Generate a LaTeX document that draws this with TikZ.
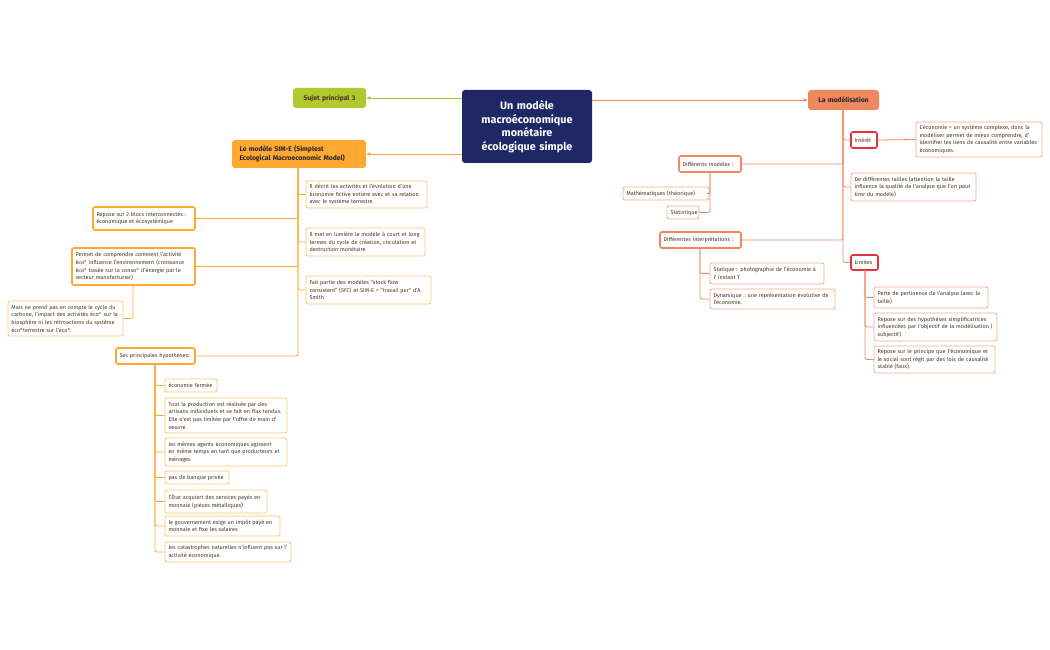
\documentclass[tikz,border=0pt]{standalone}
\usepackage{fontspec}
\setmainfont{Fira Sans}
\usetikzlibrary{arrows.meta}
\hyphenpenalty=10000
\exhyphenpenalty=10000
\definecolor{navy}{HTML}{1F2864}
\definecolor{ora}{HTML}{FFA832}
\definecolor{oral}{HTML}{FFC46E}
\definecolor{lime}{HTML}{B3C72E}
\definecolor{sal}{HTML}{F0885F}
\definecolor{sall}{HTML}{F7A98A}
\definecolor{redb}{HTML}{E0313A}
\definecolor{txt}{HTML}{4A3520}
\newcommand\bx[7]{\node[#6, minimum width={(#4-#2)*1pt}, minimum height={(#5-#3)*1pt}, text width={(#4-#2-7)*1pt}] (#1) at ({(#2+#4)/2},{(#3+#5)/2}) {#7};}
\tikzset{
 base/.style={rectangle, rounded corners=2pt, inner sep=0pt, align=left, text=txt, font=\fontsize{5.5}{7.6}\selectfont},
 leafo/.style={base, draw=oral, line width=0.8pt, fill=white},
 bigo/.style={base, draw=ora, line width=1.6pt, fill=white},
 leafs/.style={base, draw=sall, line width=0.8pt, fill=white},
 bigs/.style={base, draw=sal, line width=1.6pt, fill=white},
 reds/.style={base, draw=redb, line width=1.6pt, fill=white},
 lo/.style={draw=ora, line width=0.8pt, rounded corners=2pt},
 ls/.style={draw=sal, line width=0.8pt, rounded corners=2pt},
}
\begin{document}
\begin{tikzpicture}[x=1pt,y=-1pt]
\useasboundingbox (0,0) rectangle (1050,650);
% central & main topics
\bx{c}{462}{90}{592}{163}{base, fill=navy, text=white, align=center, font=\fontsize{10.8}{13.5}\selectfont\bfseries, rounded corners=3pt}{Un modèle\\macroéconomique\\monétaire\\écologique simple}
\bx{suj}{293}{88}{366}{108}{base, fill=lime, text=txt, align=center, font=\fontsize{6.8}{8}\selectfont\bfseries, rounded corners=3pt}{Sujet principal 3}
\bx{sime}{232}{140}{366}{168}{base, fill=ora, text=black!85, font=\fontsize{6.8}{9.5}\selectfont\bfseries, rounded corners=3pt}{\hspace*{4pt}Le modèle SIM-E (Simplest\\\hspace*{4pt}Ecological Macroeconomic Model)}
\bx{mod}{808}{90}{879}{110}{base, fill=sal, text=black!85, align=center, font=\fontsize{6.8}{8}\selectfont\bfseries, rounded corners=3pt}{La modélisation}
\draw[lime, line width=0.8pt, -{Latex[length=4pt,width=4pt]}] (c.west |- suj.east) -- (suj.east);
\draw[ora, line width=0.8pt, -{Latex[length=4pt,width=4pt]}] (c.west |- sime.east) -- (sime.east);
\draw[sal, line width=0.8pt, -{Latex[length=4pt,width=4pt]}] (c.east |- mod.west) -- (mod.west);
% left side
\bx{d1}{306}{181}{427}{208}{leafo}{Il décrit les activités et l'évolution d'une économie fictive entière avec et sa relation avec le système terrestre}
\bx{d2}{306}{228}{425}{256}{leafo}{Il met en lumière le modèle à court et long termes du cycle de création, circulation et destruction monétaire}
\bx{d3}{306}{276}{431}{304}{leafo}{Fait partie des modèles "stock flow consistent" (SFC) et SIM-E = "travail pur" d'A. Smith}
\bx{r2}{93}{207}{195}{230}{bigo}{Repose sur 2 blocs interconnectés : économique et écosystémique}
\bx{pc}{72}{248}{195}{285}{bigo}{Permet de comprendre comment l'activité éco° influence l'environnement (croissance éco° basée sur la conso° d'énergie par le secteur manufacturier)}
\bx{mp}{8}{301}{123}{336}{leafo}{Mais ne prend pas en compte le cycle du carbone, l'impact des activités éco° sur la biosphère ni les rétroactions du système éco°terrestre sur l'éco°.}
\bx{hy}{116}{348}{195}{364}{bigo}{Ses principales hypothèses:}
\coordinate (t1) at (298,168);
\foreach \n in {d1,d2,d3} \draw[lo] (t1) |- (\n.west);
\foreach \n in {r2,pc,hy} \draw[lo] (t1) |- (\n.east);
\coordinate (t2) at (133,285);
\draw[lo] (t2) |- (mp.east);
\bx{h1}{165}{379}{217}{392}{leafo}{économie fermée}
\bx{h2}{165}{398}{287}{433}{leafo}{Tout la production est réalisée par des artisans individuels et se fait en flux tendus. Elle n'est pas limitée par l'offre de main d' oeuvre}
\bx{h3}{165}{438}{287}{466}{leafo}{les mêmes agents économiques agissent en même temps en tant que producteurs et ménages}
\bx{h4}{165}{471}{229}{484}{leafo}{pas de banque privée}
\bx{h5}{165}{490}{267}{513}{leafo}{l'État acquiert des services payés en monnaie (pièces métalliques)}
\bx{h6}{165}{516}{280}{536}{leafo}{le gouvernement exige un impôt payé en monnaie et fixe les salaires}
\bx{h7}{165}{542}{291}{562}{leafo}{les catastrophes naturelles n'influent pas sur l' activité économique.}
\coordinate (t3) at (155,364);
\foreach \n in {h1,h2,h3,h4,h5,h6,h7} \draw[lo] (t3) |- (\n.west);
% right side
\bx{int}{851}{132}{877}{148}{reds}{Intérêt}
\bx{eco}{916}{122}{1042}{157}{leafs}{L'économie = un système complexe, donc la modéliser permet de mieux comprendre, d' identifier les liens de causalité entre variables économiques.}
\bx{tai}{851}{173}{976}{201}{leafs}{De différentes tailles (attention la taille influence la qualité de l'analyse que l'on peut tirer du modèle)}
\bx{dm}{679}{156}{741}{172}{bigs}{Différents modèles :}
\bx{ma}{623}{187}{709}{200}{leafs}{Mathématiques (théorique)}
\bx{st}{667}{206}{699}{219}{leafs}{Statistique}
\bx{di}{660}{232}{741}{248}{bigs}{Différentes interprétations :}
\bx{sta}{710}{263}{824}{284}{leafs}{Statique : photographie de l'économie à l' instant T}
\bx{dyn}{710}{289}{835}{309}{leafs}{Dynamique : une représentation évolutive de l'économie.}
\bx{lim}{851}{255}{878}{270}{reds}{Limites}
\bx{p1}{874}{287}{988}{308}{leafs}{Perte de pertinence de l'analyse (avec la taille)}
\bx{p2}{874}{313}{997}{341}{leafs}{Repose sur des hypothèses simplificatrices influencées par l'objectif de la modélisation ( subjectif)}
\bx{p3}{874}{346}{995}{373}{leafs}{Repose sur le principe que l'économique et le social sont régit par des lois de causalité stable (faux).}
\coordinate (t4) at (843,110);
\foreach \n in {int,tai,lim} \draw[ls] (t4) |- (\n.west);
\foreach \n in {dm,di} \draw[ls] (t4) |- (\n.east);
\draw[ls] (int.east) -- (eco.west);
\coordinate (t5) at (710,172);
\foreach \n in {ma,st} \draw[ls] (t5) |- (\n.east);
\coordinate (t6) at (700,248);
\foreach \n in {sta,dyn} \draw[ls] (t6) |- (\n.west);
\coordinate (t7) at (865,270);
\foreach \n in {p1,p2,p3} \draw[ls] (t7) |- (\n.west);
\end{tikzpicture}
\end{document}
